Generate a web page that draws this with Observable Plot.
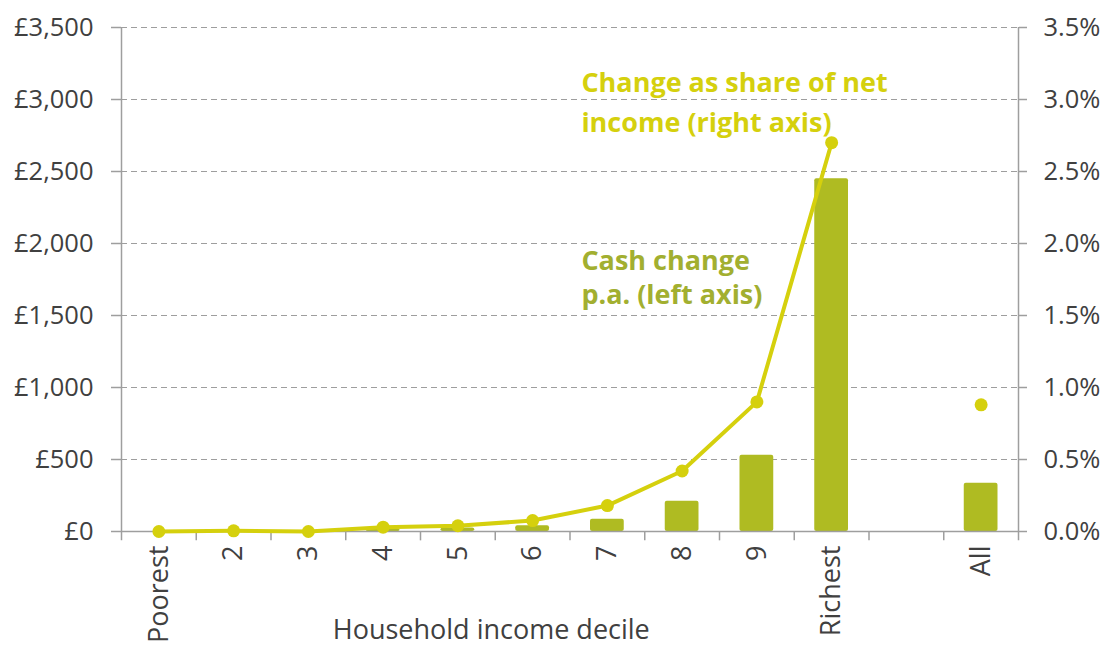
<!DOCTYPE html>
<html><head><meta charset="utf-8">
<script src="https://cdn.jsdelivr.net/npm/d3@7"></script>
<script src="https://cdn.jsdelivr.net/npm/@observablehq/plot@0.6"></script>
<style>
body{margin:0;background:#fff;}
svg{font-family:"Open Sans",sans-serif;}
</style>
</head><body><div id="chart"></div>
<script>
const categories = ["Poorest","2","3","4","5","6","7","8","9","Richest","","All"];
const cashChange = [0, 8, 3, 18, 25, 40, 85, 210, 530, 2450, null, 335];
const shareChange = [0.0, 0.005, 0.0, 0.03, 0.04, 0.076, 0.18, 0.42, 0.90, 2.70, null, 0.88];
const cashTicks = [0, 500, 1000, 1500, 2000, 2500, 3000, 3500];
const shareTicks = [0, 0.5, 1.0, 1.5, 2.0, 2.5, 3.0, 3.5];
const deciles = categories.slice(0, 10);

const rows = categories.map((cat, i) => ({cat, cash: cashChange[i], share: shareChange[i]}));
const ratio = cashTicks[cashTicks.length - 1] / shareTicks[shareTicks.length - 1];

const W = 1105, H = 648, ML = 121, MR = 87, MT = 27, MB = 117;
const step = (W - ML - MR) / categories.length;
const lineColor = "#d5d00d", barColor = "#afbb22", axisGray = "#9e9e9e", textColor = "#404040";

const chart = Plot.plot({
  width: W, height: H,
  marginLeft: ML, marginRight: MR, marginTop: MT, marginBottom: MB,
  style: {fontFamily: "'Open Sans', sans-serif", fontSize: "25.5px", color: textColor, background: "#fff"},
  x: {domain: categories, padding: 0, round: false, axis: null},
  y: {domain: [0, cashTicks[cashTicks.length - 1]], axis: null},
  marks: [
    Plot.gridY(cashTicks.slice(1), {stroke: axisGray, strokeOpacity: 1, strokeDasharray: "6,4"}),
    Plot.barY(rows.filter(d => d.cash != null), {x: "cat", y: "cash", fill: barColor, insetLeft: 20.5, insetRight: 20.5, rx: 2}),
    Plot.ruleY([0], {stroke: axisGray, strokeWidth: 1.5}),
    Plot.ruleX([categories[0]], {dx: -step / 2, y1: -65, y2: 3500, stroke: axisGray, strokeWidth: 1.5}),
    Plot.ruleX([categories[categories.length - 1]], {dx: step / 2, y1: -65, y2: 3500, stroke: axisGray, strokeWidth: 1.5}),
    Plot.ruleX(categories.slice(1), {dx: -step / 2, y1: 0, y2: -65, stroke: axisGray, strokeWidth: 1.5}),
    Plot.axisY(cashTicks, {anchor: "left", tickSize: 10, tickPadding: 18, label: null,
      tickFormat: d => "£" + d3.format(",")(d), stroke: axisGray, strokeWidth: 1.5, fill: textColor}),
    Plot.axisY(shareTicks.map(v => v * ratio), {anchor: "right", tickSize: 8, tickPadding: 17, label: null,
      tickFormat: d => (d / ratio).toFixed(1) + "%", stroke: axisGray, strokeWidth: 1.5, fill: textColor}),
    Plot.axisX({tickSize: 0, tickRotate: -90, tickPadding: 14, label: null, fontSize: 27, fill: textColor}),
    Plot.line(rows.filter(d => deciles.includes(d.cat)), {x: "cat", y: d => d.share * ratio, stroke: lineColor, strokeWidth: 4}),
    Plot.dot(rows.filter(d => d.share != null), {x: "cat", y: d => d.share * ratio, r: 6.5, fill: lineColor}),
    Plot.text(["Change as share of net\nincome (right axis)"], {x: () => "7", y: () => 3000, dx: -26,
      textAnchor: "start", lineAnchor: "middle", lineHeight: 1.46, fontSize: 27, fontWeight: "bold", fill: lineColor}),
    Plot.text(["Cash change\np.a. (left axis)"], {x: () => "7", y: () => 1774, dx: -26,
      textAnchor: "start", lineAnchor: "middle", lineHeight: 1.26, fontSize: 27, fontWeight: "bold", fill: "#a2af30"}),
    Plot.text(["Household income decile"], {x: () => "5", dx: step / 2 - 4, frameAnchor: "bottom", lineAnchor: "middle", dy: 99,
      fontSize: 27, fill: textColor})
  ]
});
document.getElementById("chart").appendChild(chart);
</script>
</body></html>
